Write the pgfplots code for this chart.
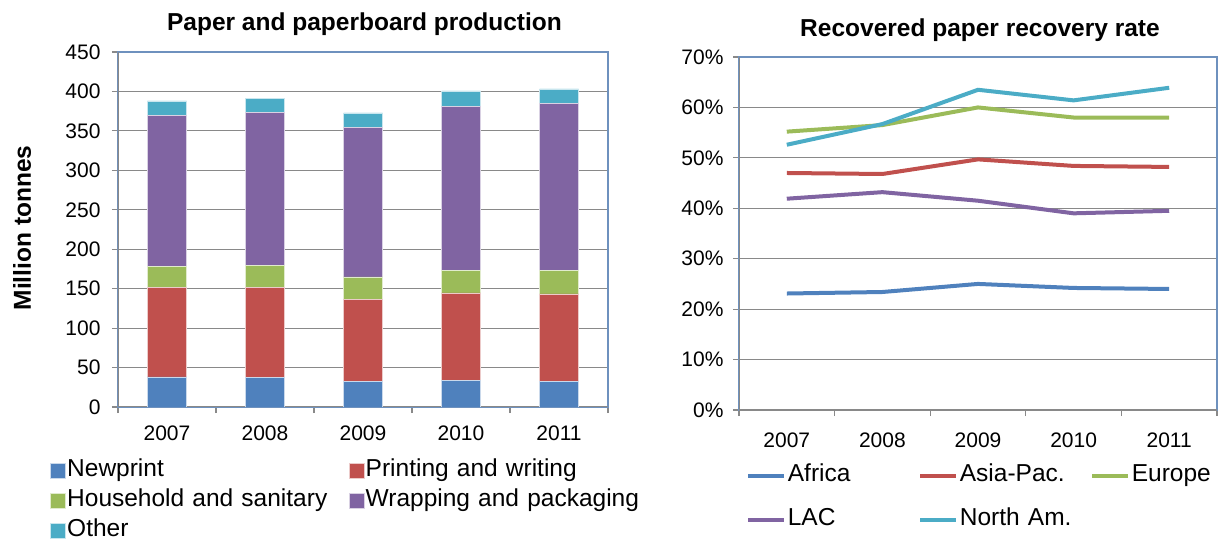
\documentclass[border=0pt]{standalone}
\usepackage{fontspec}
\setmainfont{Liberation Sans}
\usepackage{pgfplots}
\pgfplotsset{compat=1.18}
\definecolor{cBlue}{HTML}{4F81BD}
\definecolor{cRed}{HTML}{C0504D}
\definecolor{cGreen}{HTML}{9BBB59}
\definecolor{cPurple}{HTML}{8064A2}
\definecolor{cCyan}{HTML}{4BACC6}
\definecolor{gridc}{RGB}{137,137,137}
\definecolor{framec}{RGB}{110,145,190}
\pgfplotsset{
  common/.style={
    scale only axis,
    axis line style={draw=framec, line width=1.2pt},
    tick pos=left,
    tick align=outside,
    major tick length=6pt,
    minor tick length=6pt,
    ytick style={draw=gridc, line width=1.2pt},
    major x tick style={draw=none},
    minor x tick style={draw=gridc, line width=1.2pt},
    ymajorgrids,
    major grid style={draw=gridc, line width=1.2pt},
    xmin=-0.5, xmax=4.5,
    xtick={0,1,2,3,4},
    minor xtick={-0.5,0.5,1.5,2.5,3.5,4.5},
    xticklabels={2007,2008,2009,2010,2011},
    tick label style={font=\fontsize{21}{24}\selectfont},
    legend cell align=left,
  }
}
\pgfplotstableread{
x news print house wrap other
0 38.1 113.3 27.1 190.8 18.6
1 37.2 114.2 28.4 193.3 18.2
2 32.1 104.5 28.4 189.1 18.6
3 33.8 110.9 28.7 207.7 19.5
4 32.1 111.3 30.0 211.5 18.2
}\prod
\pgfplotstableread{
x africa asia europe lac nam
0 23.1 47.0 55.2 41.9 52.6
1 23.4 46.8 56.5 43.2 56.7
2 25.0 49.7 60.0 41.5 63.5
3 24.2 48.4 58.0 39.0 61.4
4 24.0 48.2 58.0 39.5 63.9
}\rate
\begin{document}
\begin{tikzpicture}
\useasboundingbox (0pt,0pt) rectangle (1221pt,541pt);
% ---------- left chart ----------
\begin{axis}[common,
  at={(118pt,134pt)}, anchor=south west,
  width=490pt, height=355pt,
  ymin=0, ymax=450, ytick={0,50,...,450},
  yticklabels={0,50,100,150,200,250,300,350,400,450},
  yticklabel style={xshift=-8pt},
  xticklabel style={yshift=-9pt},
  ybar stacked, bar width=39pt,
  legend columns=2,
  legend image code/.code={\fill[#1] (0pt,-7.5pt) rectangle (15pt,7.5pt);},
  legend style={draw=none, fill=none, at={(-0.1388,-0.1437)}, anchor=north west,
    font=\fontsize{24.5}{27}\selectfont, inner sep=0pt, row sep=5pt,
    nodes={inner sep=1.5pt, text height=17pt, text depth=5pt},
    /tikz/every even column/.append style={text width=280pt}},
]
\addplot[fill=cBlue, draw=white!70!cBlue, line width=0.5pt] table[x=x,y=news] {\prod};
\addlegendentry{Newprint}
\addplot[fill=cRed, draw=white!70!cRed, line width=0.5pt] table[x=x,y=print] {\prod};
\addlegendentry{Printing and writing}
\addplot[fill=cGreen, draw=white!70!cGreen, line width=0.5pt] table[x=x,y=house] {\prod};
\addlegendentry{Household and sanitary}
\addplot[fill=cPurple, draw=white!70!cPurple, line width=0.5pt] table[x=x,y=wrap] {\prod};
\addlegendentry{Wrapping and packaging}
\addplot[fill=cCyan, draw=white!70!cCyan, line width=0.5pt] table[x=x,y=other] {\prod};
\addlegendentry{Other}
\draw[gridc, line width=1.2pt] (rel axis cs:0,1) -- (rel axis cs:0,0) -- (rel axis cs:1,0);
\end{axis}
% ---------- right chart ----------
\begin{axis}[common,
  at={(739pt,131pt)}, anchor=south west,
  width=478pt, height=353pt,
  ymin=0, ymax=70, ytick={0,10,...,70},
  yticklabels={0\%,10\%,20\%,30\%,40\%,50\%,60\%,70\%},
  yticklabel style={xshift=-6pt},
  xticklabel style={yshift=-13pt},
  legend columns=3,
  legend image code/.code={\draw[#1, line width=4pt] (0pt,0pt) -- (36pt,0pt);},
  legend style={draw=none, fill=none, at={(0.015,-0.150)}, anchor=north west,
    font=\fontsize{24.5}{27}\selectfont, inner sep=0pt, row sep=19pt,
    nodes={inner sep=1.5pt, text height=17pt, text depth=5pt},
    /tikz/every even column/.append style={text width=129pt}},
]
\addplot[cBlue, line width=4pt] table[x=x,y=africa] {\rate};
\addlegendentry{Africa}
\addplot[cRed, line width=4pt] table[x=x,y=asia] {\rate};
\addlegendentry{Asia-Pac.}
\addplot[cGreen, line width=4pt] table[x=x,y=europe] {\rate};
\addlegendentry{Europe}
\addplot[cPurple, line width=4pt] table[x=x,y=lac] {\rate};
\addlegendentry{LAC}
\addplot[cCyan, line width=4pt] table[x=x,y=nam] {\rate};
\addlegendentry{North Am.}
\draw[gridc, line width=1.2pt] (rel axis cs:0,1) -- (rel axis cs:0,0) -- (rel axis cs:1,0);
\end{axis}
% ---------- titles ----------
\node[font=\fontsize{24.5}{27}\selectfont\bfseries] at (364.5pt,517pt) {Paper and paperboard production};
\node[font=\fontsize{24.5}{27}\selectfont\bfseries] at (980pt,511pt) {Recovered paper recovery rate};
\node[font=\fontsize{24.5}{27}\selectfont\bfseries, rotate=90] at (22pt,313pt) {Million tonnes};
\end{tikzpicture}
\end{document}
